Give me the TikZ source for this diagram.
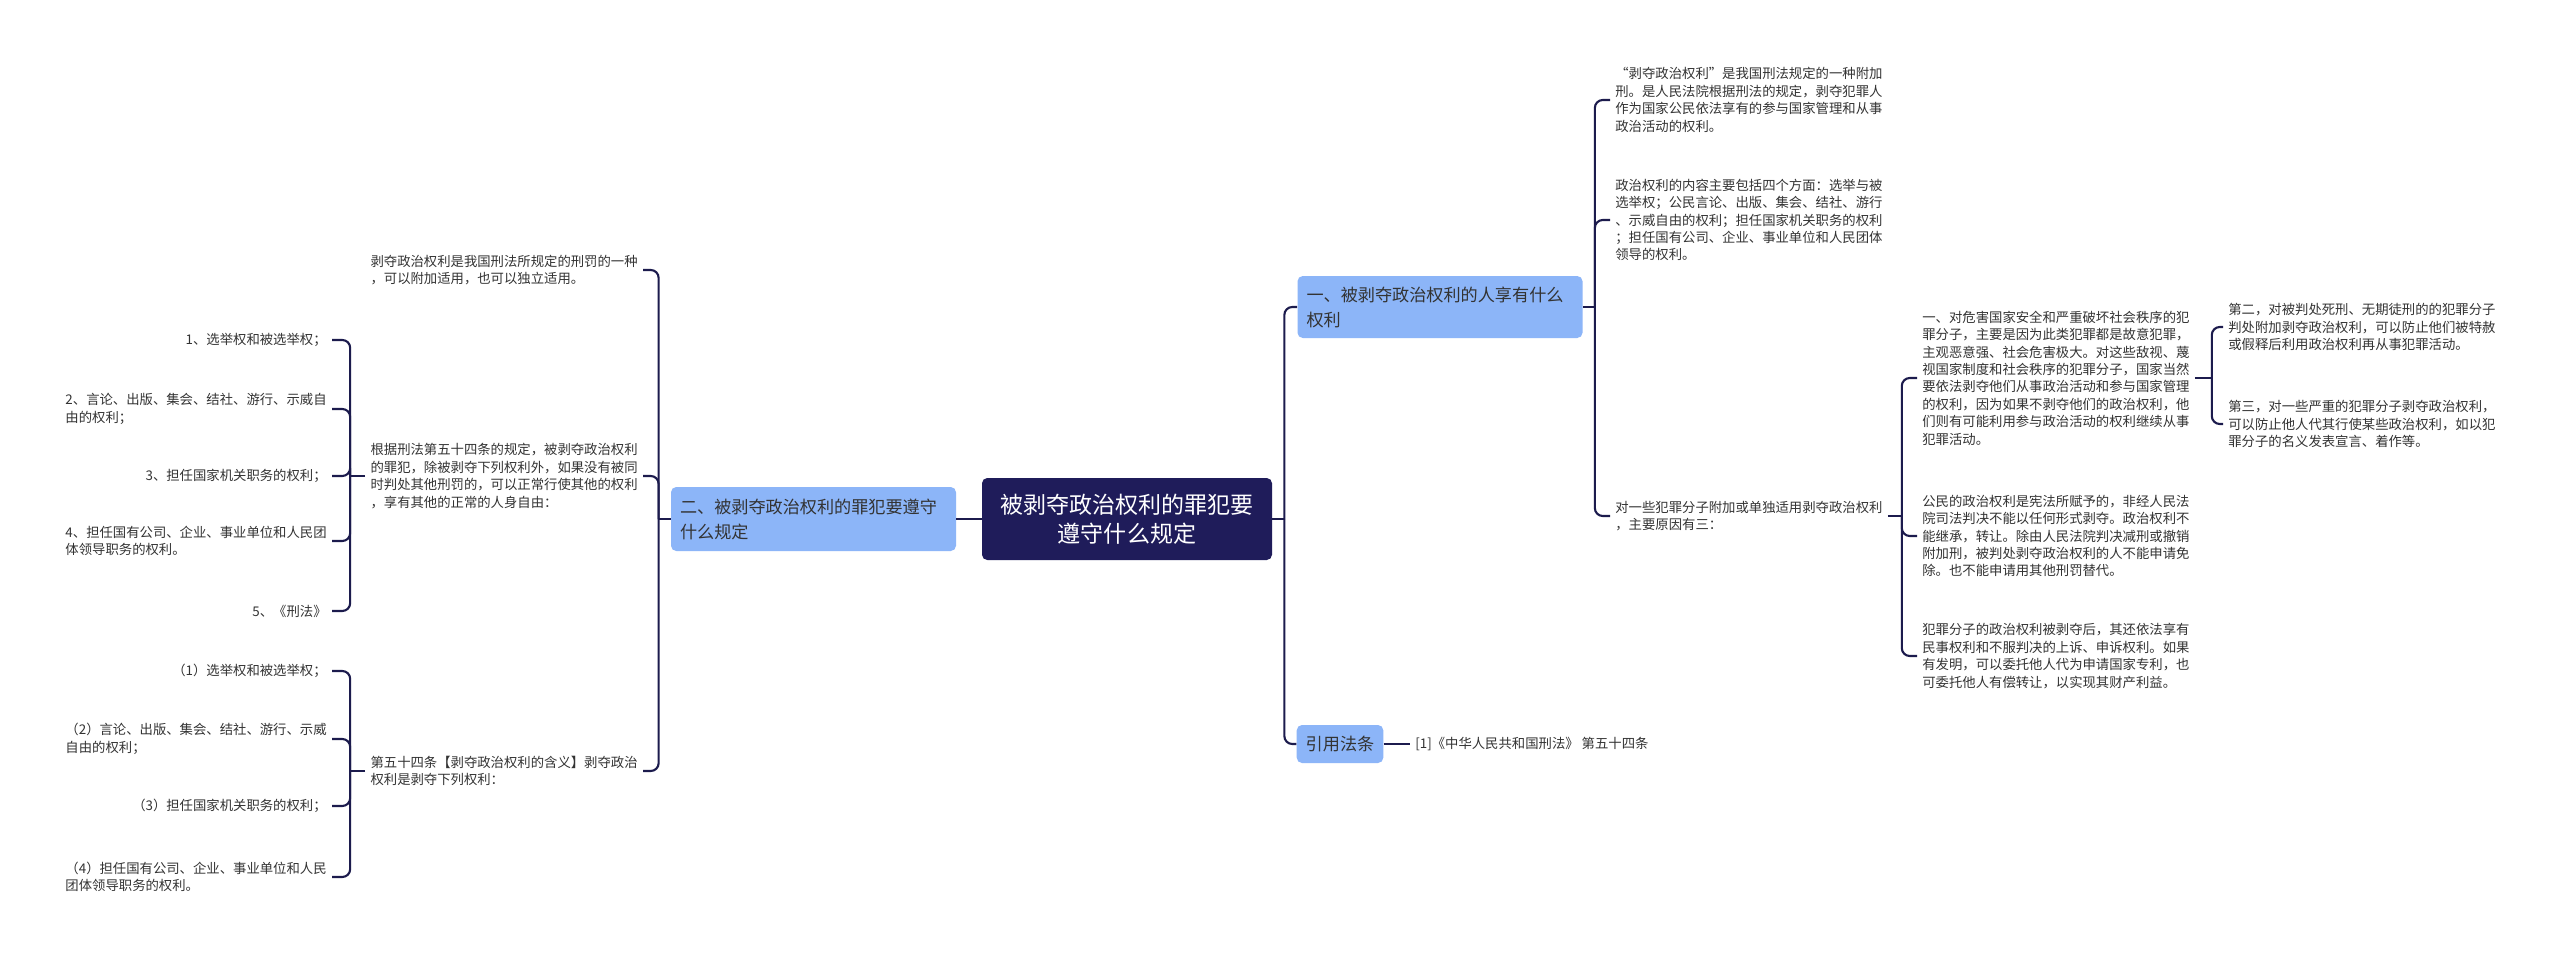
\documentclass[tikz,border=0pt]{standalone}
\usepackage{fontspec}
\setmainfont{Noto Sans CJK SC}
\usepackage{xcolor}
\usepackage{tikz}
\definecolor{deepnavy}{HTML}{1F1C5A}
\definecolor{linknavy}{HTML}{1C1B4D}
\definecolor{skyblue}{HTML}{8CB5F8}
\definecolor{inkgray}{HTML}{333333}

\begin{document}
\begin{tikzpicture}[x=1cm,y=-1cm,
  link/.style={draw=linknavy,line width=1.2pt,rounded corners=4.5pt},
  rootbox/.style={fill=deepnavy,rounded corners=3pt,text=white,align=center,
    minimum width=5.8cm,minimum height=1.64cm,font=\fontsize{13.1}{16.6}\selectfont},
  topic/.style={fill=skyblue,rounded corners=3pt,text=inkgray,align=left,inner xsep=0.18cm,
    font=\fontsize{9.75}{14.2}\selectfont},
  leaf/.style={text=inkgray,inner sep=0.1cm,align=left,font=\fontsize{7.6}{9.9}\selectfont}]
\useasboundingbox[fill=white] (0,0) rectangle (51.2,19.08);

\node[rootbox] (root) at (22.54,10.38) {被剥夺政治权利的罪犯要\\遵守什么规定};
\node[topic,text width=5.34cm,minimum height=1.28cm] (duty) at (16.27,10.38) {二、被剥夺政治权利的罪犯要遵守\\什么规定};
\node[topic,text width=5.34cm,minimum height=1.24cm] (rights) at (28.8,6.14) {一、被剥夺政治权利的人享有什么\\权利};
\node[topic,minimum width=1.72cm,minimum height=0.76cm] (cite) at (26.8,14.88) {引用法条};

\node[leaf,anchor=west] (law) at (28.2,14.88) {[1]《中华人民共和国刑法》 第五十四条};
\node[leaf,anchor=west] (def) at (32.2,2.0) {“剥夺政治权利”是我国刑法规定的一种附加\\刑。是人民法院根据刑法的规定，剥夺犯罪人\\作为国家公民依法享有的参与国家管理和从事\\政治活动的权利。};
\node[leaf,anchor=west] (content) at (32.2,4.4) {政治权利的内容主要包括四个方面：选举与被\\选举权；公民言论、出版、集会、结社、游行\\、示威自由的权利；担任国家机关职务的权利\\；担任国有公司、企业、事业单位和人民团体\\领导的权利。};
\node[leaf,anchor=west] (reasons) at (32.2,10.32) {对一些犯罪分子附加或单独适用剥夺政治权利\\，主要原因有三：};
\node[leaf,anchor=west] (first) at (38.34,7.56) {一、对危害国家安全和严重破坏社会秩序的犯\\罪分子，主要是因为此类犯罪都是故意犯罪，\\主观恶意强、社会危害极大。对这些敌视、蔑\\视国家制度和社会秩序的犯罪分子，国家当然\\要依法剥夺他们从事政治活动和参与国家管理\\的权利，因为如果不剥夺他们的政治权利，他\\们则有可能利用参与政治活动的权利继续从事\\犯罪活动。};
\node[leaf,anchor=west] (civic) at (38.34,10.72) {公民的政治权利是宪法所赋予的，非经人民法\\院司法判决不能以任何形式剥夺。政治权利不\\能继承，转让。除由人民法院判决减刑或撤销\\附加刑，被判处剥夺政治权利的人不能申请免\\除。也不能申请用其他刑罚替代。};
\node[leaf,anchor=west] (keep) at (38.34,13.12) {犯罪分子的政治权利被剥夺后，其还依法享有\\民事权利和不服判决的上诉、申诉权利。如果\\有发明，可以委托他人代为申请国家专利，也\\可委托他人有偿转让，以实现其财产利益。};
\node[leaf,anchor=west] (second) at (44.46,6.54) {第二，对被判处死刑、无期徒刑的的犯罪分子\\判处附加剥夺政治权利，可以防止他们被特赦\\或假释后利用政治权利再从事犯罪活动。};
\node[leaf,anchor=west] (third) at (44.46,8.48) {第三，对一些严重的犯罪分子剥夺政治权利，\\可以防止他人代其行使某些政治权利，如以犯\\罪分子的名义发表宣言、着作等。};

\node[leaf,anchor=east] (kind) at (12.86,5.4) {剥夺政治权利是我国刑法所规定的刑罚的一种\\，可以附加适用，也可以独立适用。};
\node[leaf,anchor=east] (art) at (12.86,9.52) {根据刑法第五十四条的规定，被剥夺政治权利\\的罪犯，除被剥夺下列权利外，如果没有被同\\时判处其他刑罚的，可以正常行使其他的权利\\，享有其他的正常的人身自由：};
\node[leaf,anchor=east] (meaning) at (12.86,15.42) {第五十四条【剥夺政治权利的含义】剥夺政治\\权利是剥夺下列权利：};
\node[leaf,anchor=east] (a1) at (6.64,6.8) {1、选举权和被选举权；};
\node[leaf,anchor=east] (a2) at (6.64,8.18) {2、言论、出版、集会、结社、游行、示威自\\由的权利；};
\node[leaf,anchor=east] (a3) at (6.64,9.52) {3、担任国家机关职务的权利；};
\node[leaf,anchor=east] (a4) at (6.64,10.82) {4、担任国有公司、企业、事业单位和人民团\\体领导职务的权利。};
\node[leaf,anchor=east] (a5) at (6.64,12.22) {5、《刑法》};
\node[leaf,anchor=east] (m1) at (6.64,13.42) {（1）选举权和被选举权；};
\node[leaf,anchor=east] (m2) at (6.64,14.78) {（2）言论、出版、集会、结社、游行、示威\\自由的权利；};
\node[leaf,anchor=east] (m3) at (6.64,16.12) {（3）担任国家机关职务的权利；};
\node[leaf,anchor=east] (m4) at (6.64,17.54) {（4）担任国有公司、企业、事业单位和人民\\团体领导职务的权利。};

\coordinate (jroot) at ([xshift=0.24cm]root.east);
\coordinate (jrights) at ([xshift=0.24cm]rights.east);
\coordinate (jreasons) at ([xshift=0.28cm]reasons.east);
\coordinate (jfirst) at ([xshift=0.34cm]first.east);
\coordinate (jduty) at ([xshift=-0.24cm]duty.west);
\coordinate (jart) at ([xshift=-0.3cm]art.west);
\coordinate (jmeaning) at ([xshift=-0.3cm]meaning.west);

\draw[link] (duty.east) -- (root.west);
\draw[link] (root.east) -- (jroot);
\draw[link] (jroot) |- (rights.west);
\draw[link] (jroot) |- (cite.west);
\draw[link] (cite.east) -- (law.west);
\draw[link] (rights.east) -- (jrights);
\foreach \n in {def,content,reasons} \draw[link] (jrights) |- (\n.west);
\draw[link] (reasons.east) -- (jreasons);
\foreach \n in {first,civic,keep} \draw[link] (jreasons) |- (\n.west);
\draw[link] (first.east) -- (jfirst);
\foreach \n in {second,third} \draw[link] (jfirst) |- (\n.west);
\draw[link] (duty.west) -- (jduty);
\foreach \n in {kind,art,meaning} \draw[link] (jduty) |- (\n.east);
\draw[link] (art.west) -- (jart);
\foreach \n in {a1,a2,a3,a4,a5} \draw[link] (jart) |- (\n.east);
\draw[link] (meaning.west) -- (jmeaning);
\foreach \n in {m1,m2,m3,m4} \draw[link] (jmeaning) |- (\n.east);
\end{tikzpicture}
\end{document}
